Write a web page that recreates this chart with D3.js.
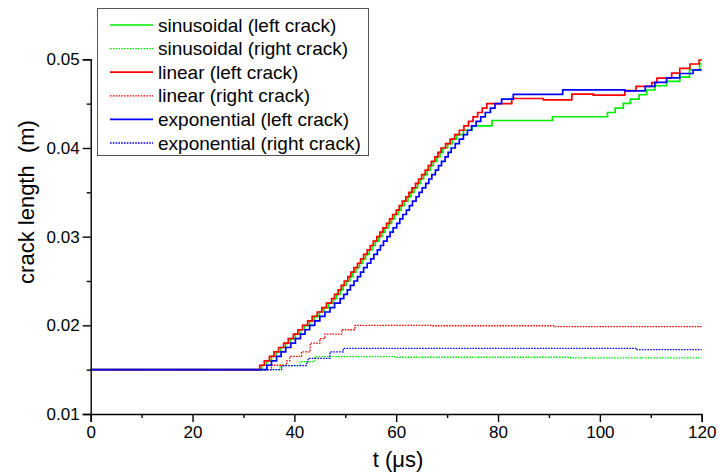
<!DOCTYPE html>
<html>
<head>
<meta charset="utf-8">
<script src="https://cdn.jsdelivr.net/npm/d3@7"></script>
<style>
	body { margin: 0; background: #fff; }
	text { font-family: "Liberation Sans", Arial, sans-serif; fill: #000; }
</style>
</head>
<body>
<script>
const w = 718;
const h = 474;
const margin = { left: 90.7, right: 16.3, top: 59.3, bottom: 60 };

// * DATA  [t (µs), crack length (m)], step changes
const sinLeft = [[0,0.015],[33.6,0.0155],[34.5,0.016],[35.5,0.0165],[36.4,0.017],[37.3,0.0175],[38.3,0.018],[39.2,0.0185],[40.2,0.019],[41.1,0.0195],[42.0,0.02],[43.0,0.0205],[43.9,0.021],[44.9,0.0215],[45.8,0.022],[46.7,0.0225],[47.7,0.023],[48.3,0.0235],[49.0,0.024],[49.6,0.0245],[50.2,0.025],[50.9,0.0255],[51.5,0.026],[52.1,0.0265],[52.8,0.027],[53.4,0.0275],[54.0,0.028],[54.7,0.0285],[55.3,0.029],[55.9,0.0295],[56.6,0.03],[57.2,0.0305],[57.8,0.031],[58.5,0.0315],[59.1,0.032],[59.7,0.0325],[60.4,0.033],[61.0,0.0335],[61.6,0.034],[62.3,0.0345],[62.9,0.035],[63.5,0.0355],[64.2,0.036],[64.8,0.0365],[65.4,0.037],[66.1,0.0375],[66.7,0.038],[67.3,0.0385],[68.0,0.039],[68.6,0.0395],[69.2,0.04],[70.1,0.0405],[71.0,0.041],[71.9,0.0415],[73.2,0.042],[74.9,0.0425],[78.8,0.0431],[90.7,0.04352],[101.5,0.044],[103.0,0.0445],[104.6,0.04503],[106.0,0.0455],[107.7,0.046],[109.2,0.04654],[110.8,0.04702],[113.1,0.0475],[115.7,0.048],[117.6,0.0488],[119.6,0.0495],[120,0.0495]];
const sinRight = [[0,0.015],[37.2,0.01545],[41.1,0.0159],[44.0,0.01646],[60.1,0.0164],[94.2,0.01633],[120,0.01633]];
const linLeft = [[0,0.015],[33.2,0.0155],[34.1,0.016],[35.1,0.0165],[36.0,0.017],[36.9,0.0175],[37.9,0.018],[38.8,0.0185],[39.8,0.019],[40.7,0.0195],[41.6,0.02],[42.6,0.0205],[43.5,0.021],[44.5,0.0215],[45.4,0.022],[46.3,0.0225],[47.3,0.023],[47.9,0.0235],[48.6,0.024],[49.2,0.0245],[49.8,0.025],[50.5,0.0255],[51.1,0.026],[51.7,0.0265],[52.4,0.027],[53.0,0.0275],[53.6,0.028],[54.3,0.0285],[54.9,0.029],[55.5,0.0295],[56.2,0.03],[56.8,0.0305],[57.4,0.031],[58.1,0.0315],[58.7,0.032],[59.3,0.0325],[60.0,0.033],[60.6,0.0335],[61.2,0.034],[61.9,0.0345],[62.5,0.035],[63.1,0.0355],[63.8,0.036],[64.4,0.0365],[65.0,0.037],[65.7,0.0375],[66.3,0.038],[66.9,0.0385],[67.6,0.039],[68.2,0.0395],[68.8,0.04],[69.7,0.0405],[70.6,0.041],[71.5,0.0415],[72.4,0.042],[73.3,0.0425],[74.2,0.043],[75.1,0.0435],[76.0,0.044],[76.9,0.0445],[77.8,0.045],[82.7,0.04558],[88.9,0.04543],[94.5,0.04608],[98.7,0.04596],[104.9,0.04646],[107.1,0.04695],[110.2,0.04738],[111.2,0.04788],[114.1,0.04845],[115.7,0.04897],[117.7,0.04947],[119.5,0.0499],[120,0.0499]];
const linRight = [[0,0.015],[35.5,0.0155],[38.5,0.016],[39.1,0.0165],[41.4,0.017],[43.1,0.018],[45.0,0.0185],[46.0,0.019],[49.3,0.0195],[51.9,0.02],[67.0,0.01995],[90.9,0.01985],[120,0.01985]];
const expLeft = [[0,0.015],[34.6,0.0155],[35.5,0.016],[36.5,0.0165],[37.4,0.017],[38.3,0.0175],[39.3,0.018],[40.2,0.0185],[41.2,0.019],[42.1,0.0195],[43.0,0.02],[44.0,0.0205],[45.0,0.021],[46.0,0.0215],[47.0,0.022],[47.9,0.0225],[49.0,0.023],[49.7,0.0235],[50.4,0.024],[51.0,0.0245],[51.7,0.025],[52.4,0.0255],[53.0,0.026],[53.6,0.0265],[54.3,0.027],[55.0,0.0275],[55.6,0.028],[56.3,0.0285],[56.9,0.029],[57.5,0.0295],[58.2,0.03],[58.8,0.0305],[59.4,0.031],[60.1,0.0315],[60.7,0.032],[61.3,0.0325],[62.0,0.033],[62.6,0.0335],[63.2,0.034],[63.9,0.0345],[64.5,0.035],[65.1,0.0355],[65.8,0.036],[66.4,0.0365],[67.0,0.037],[67.7,0.0375],[68.3,0.038],[68.9,0.0385],[69.6,0.039],[70.2,0.0395],[70.8,0.04],[71.6,0.0405],[72.4,0.041],[73.2,0.0415],[74.0,0.042],[74.8,0.0425],[75.7,0.043],[76.6,0.0435],[77.5,0.044],[78.5,0.0445],[79.4,0.045],[80.7,0.0455],[83.0,0.04605],[92.7,0.04655],[104.9,0.04645],[108.9,0.04695],[110.8,0.0474],[113.1,0.0479],[115.7,0.0484],[118.3,0.0488],[120,0.0488]];
const expRight = [[0,0.015],[37.5,0.01545],[42.4,0.0159],[42.7,0.01628],[47.0,0.017],[49.6,0.01741],[107.3,0.01725],[120,0.01725]];

const seriesNames = [
	"sinusoidal (left crack)",
	"sinusoidal (right crack)",
	"linear (left crack)",
	"linear (right crack)",
	"exponential (left crack)",
	"exponential (right crack)",
];
const seriesData = [sinLeft, sinRight, linLeft, linRight, expLeft, expRight];
const seriesColors = ["#00ee00", "#00ee00", "#ff0000", "#ff0000", "#0000ff", "#0000ff"];
const seriesDotted = [false, true, false, true, false, true];

const xTicks = [0, 20, 40, 60, 80, 100, 120];
const xMinor = [10, 30, 50, 70, 90, 110];
const yTicks = [0.01, 0.02, 0.03, 0.04, 0.05];
const yMinor = [0.015, 0.025, 0.035, 0.045];

// * SVG
const svg = d3.select("body").append("svg").attr("width", w).attr("height", h);

// * SCALES
const xScale = d3.scaleLinear().domain([0, 120]).range([margin.left, w - margin.right]);
const yScale = d3.scaleLinear().domain([0.01, 0.05]).range([h - margin.bottom, margin.top]);

// * LINES
const line = d3
	.line()
	.x((d) => xScale(d[0]))
	.y((d) => yScale(d[1]))
	.curve(d3.curveStepAfter);

seriesData.forEach((data, i) => {
	svg.append("path")
		.datum(data)
		.attr("fill", "none")
		.attr("stroke", seriesColors[i])
		.attr("stroke-width", seriesDotted[i] ? 1.3 : 1.7)
		.attr("stroke-dasharray", seriesDotted[i] ? "1.6,1.2" : null)
		.attr("d", line);
});

// * X AXIS
svg.append("g")
	.attr("transform", "translate(0," + (h - margin.bottom) + ")")
	.call(d3.axisBottom(xScale).tickValues(xTicks).tickSize(8).tickPadding(4).tickFormat((d) => d));
svg.append("g")
	.attr("transform", "translate(0," + (h - margin.bottom) + ")")
	.call(d3.axisBottom(xScale).tickValues(xMinor).tickSize(4).tickFormat(""))
	.select(".domain").remove();

// * Y AXIS
svg.append("g")
	.attr("transform", "translate(" + margin.left + ",0)")
	.call(d3.axisLeft(yScale).tickValues(yTicks).tickSize(8).tickPadding(3).tickFormat(d3.format(".2f")));
svg.append("g")
	.attr("transform", "translate(" + margin.left + ",0)")
	.call(d3.axisLeft(yScale).tickValues(yMinor).tickSize(4).tickFormat(""))
	.select(".domain").remove();

svg.selectAll(".domain, .tick line").attr("stroke", "#000").attr("stroke-width", 1.4);
svg.selectAll(".tick text").style("font-size", "17px").style("font-family", "Liberation Sans, Arial, sans-serif");

// * AXIS TITLES
svg.append("text")
	.attr("transform", "translate(34,202) rotate(-90)")
	.attr("text-anchor", "middle")
	.attr("xml:space", "preserve")
	.style("white-space", "pre")
	.style("font-size", "22px")
	.text("crack length  (m)");
svg.append("text")
	.attr("x", 398)
	.attr("y", 467)
	.attr("text-anchor", "middle")
	.style("font-size", "22px")
	.text("t (μs)");

// * LEGEND
const legend = svg.append("g").attr("transform", "translate(97,8)");
legend.append("rect")
	.attr("x", 0.5)
	.attr("y", 0.5)
	.attr("width", 271)
	.attr("height", 147)
	.attr("fill", "#fff")
	.attr("stroke", "#555")
	.attr("stroke-width", 1);
const rowY = d3.scaleLinear().domain([0, 5]).range([17, 135]);
seriesNames.forEach((name, i) => {
	legend.append("line")
		.attr("x1", 13)
		.attr("x2", 56)
		.attr("y1", rowY(i))
		.attr("y2", rowY(i))
		.attr("stroke", seriesColors[i])
		.attr("stroke-width", seriesDotted[i] ? 1.3 : 1.7)
		.attr("stroke-dasharray", seriesDotted[i] ? "1.6,1.2" : null);
	legend.append("text")
		.attr("x", 61)
		.attr("y", rowY(i))
		.attr("dy", "0.35em")
		.style("font-size", "19px")
		.text(name);
});
</script>
</body>
</html>
